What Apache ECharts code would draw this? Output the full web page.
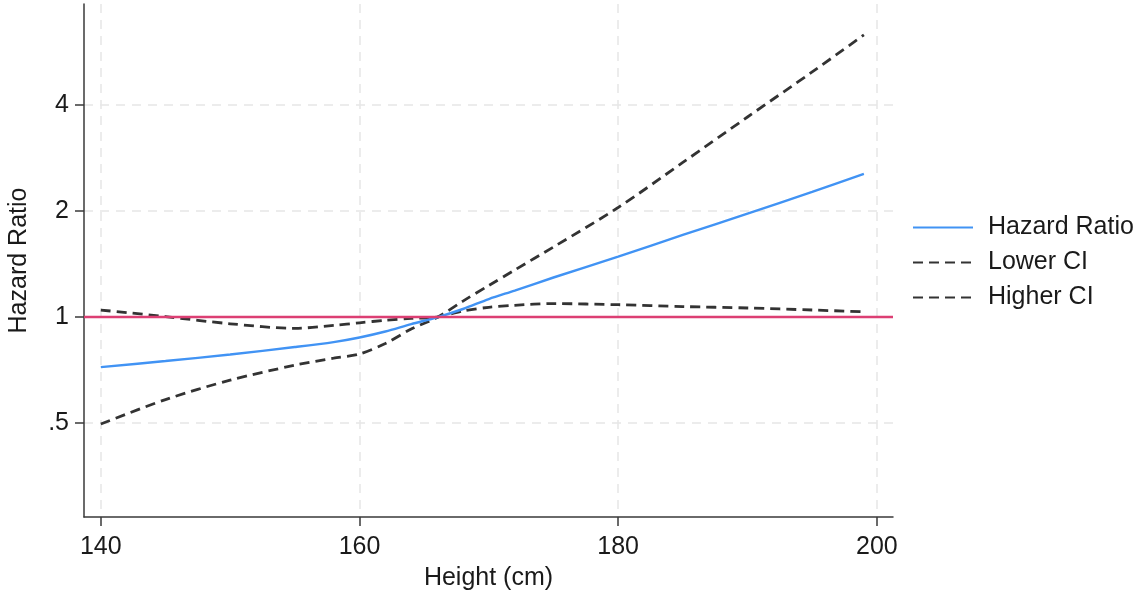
<!DOCTYPE html>
<html>
<head>
<meta charset="utf-8">
<script src="https://cdn.jsdelivr.net/npm/echarts@6/dist/echarts.min.js"></script>
<style>
html,body{margin:0;padding:0;background:#fff;}
#chart{width:1138px;height:593px;}
</style>
</head>
<body>
<div id="chart"></div>
<script>
// Height (cm)
var heights = [140,145,150,155,158,160,162,164,166,168,170,172,175,180,185,190,195,199];
// Hazard ratio
var hazardRatio = [0.721,0.750,0.783,0.822,0.849,0.875,0.910,0.955,0.998,1.054,1.125,1.189,1.295,1.485,1.710,1.967,2.265,2.548];
// Confidence interval bounds
var lowerCI = [0.497,0.583,0.662,0.730,0.764,0.785,0.841,0.925,0.997,1.110,1.229,1.360,1.581,2.046,2.747,3.698,4.964,6.322];
var higherCI = [1.047,1.003,0.957,0.929,0.947,0.963,0.979,0.991,1.000,1.040,1.066,1.080,1.092,1.084,1.071,1.061,1.047,1.035];
// Axis ticks
var xTicks = [140,160,180,200];
var yTicks = [0.5,1,2,4];
var refValue = 1;

function pairs(xs, ys){ return xs.map(function(x,i){ return [x, ys[i]]; }); }

var FONT = "'Liberation Sans', Arial, sans-serif";
var axisColor = '#3a3a3a';
var gridColor = '#e6e6e6';
var txtColor = '#1a1a1a';

var chart = echarts.init(document.getElementById('chart'), null, {renderer:'canvas'});
chart.setOption({
  animation: false,
  backgroundColor: '#ffffff',
  textStyle: {fontFamily: FONT},
  grid: {left: 84, right: 245, top: 4, bottom: 76, containLabel: false, outerBoundsMode: 'none'},
  legend: {
    orient: 'vertical',
    left: 912,
    top: 215,
    padding: 0,
    itemWidth: 60,
    itemHeight: 14,
    itemGap: 10,
    itemStyle: {opacity: 0},
    textStyle: {fontSize: 25, color: txtColor, fontFamily: FONT, padding: [0,0,0,10]},
    data: ['Hazard Ratio','Lower CI','Higher CI']
  },
  xAxis: {
    type: 'value',
    min: 138.7,
    max: 201.25,
    name: 'Height (cm)',
    nameLocation: 'middle',
    nameGap: 49,
    nameTextStyle: {fontSize: 25, color: txtColor, fontFamily: FONT},
    axisLine: {show: true, lineStyle: {color: axisColor, width: 1.5}},
    axisTick: {show: true, length: 9, lineStyle: {color: axisColor, width: 1.5}, customValues: xTicks},
    axisLabel: {fontSize: 25, color: txtColor, margin: 18, fontFamily: FONT, customValues: xTicks},
    splitLine: {show: true, lineStyle: {color: gridColor, width: 1.5, type: [9,7]}}
  },
  yAxis: {
    type: 'log',
    logBase: 2,
    min: 0.2706,
    max: 7.74,
    name: 'Hazard Ratio',
    nameLocation: 'middle',
    nameGap: 52,
    nameRotate: 90,
    nameTextStyle: {fontSize: 25, color: txtColor, fontFamily: FONT},
    axisLine: {show: true, lineStyle: {color: axisColor, width: 1.5}},
    axisTick: {show: true, length: 9, lineStyle: {color: axisColor, width: 1.5}, customValues: yTicks},
    axisLabel: {fontSize: 25, color: txtColor, margin: 15, fontFamily: FONT, customValues: yTicks,
      formatter: function(v){ return v === 0.5 ? '.5' : String(v); }},
    splitLine: {show: true, lineStyle: {color: gridColor, width: 1.5, type: [9,7]}}
  },
  series: [
    {
      name: 'Hazard Ratio',
      type: 'line',
      data: pairs(heights, hazardRatio),
      smooth: 0.3,
      symbol: 'none',
      z: 4,
      lineStyle: {color: '#4193f4', width: 2.4},
      itemStyle: {color: '#4193f4'},
      markLine: {
        silent: true,
        symbol: 'none',
        label: {show: false},
        lineStyle: {color: '#dc3f73', width: 2.4, type: 'solid'},
        data: [{yAxis: refValue}]
      }
    },
    {
      name: 'Lower CI',
      type: 'line',
      data: pairs(heights, lowerCI),
      smooth: 0.3,
      symbol: 'none',
      z: 3,
      lineStyle: {color: '#333333', width: 2.8, type: [10,6]},
      itemStyle: {color: '#333333'}
    },
    {
      name: 'Higher CI',
      type: 'line',
      data: pairs(heights, higherCI),
      smooth: 0.3,
      symbol: 'none',
      z: 3,
      lineStyle: {color: '#333333', width: 2.8, type: [10,6]},
      itemStyle: {color: '#333333'}
    }
  ]
});
</script>
</body>
</html>
